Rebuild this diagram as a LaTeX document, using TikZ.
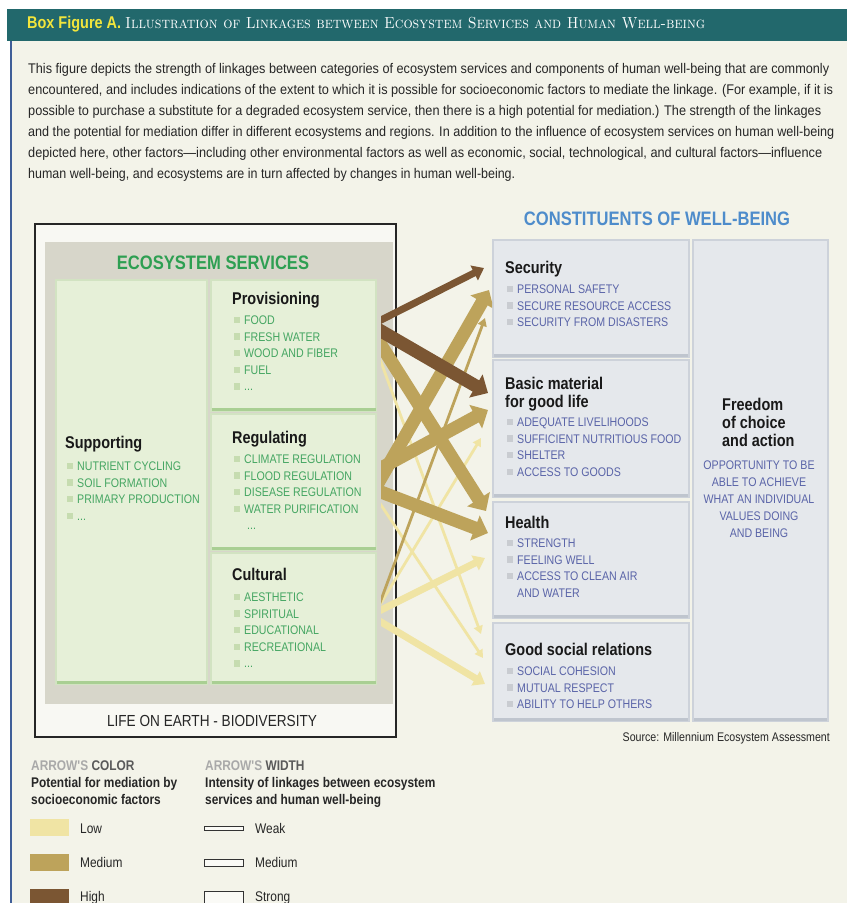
\documentclass[tikz,border=0pt]{standalone}
\usepackage{fontspec}
\usepackage{graphicx}
\newfontfamily\cf[FakeStretch=0.85]{Liberation Sans}
\usetikzlibrary{arrows.meta}
\definecolor{barteal}{HTML}{22686C}
\definecolor{cream}{HTML}{F3F3E9}
\definecolor{edgeblue}{HTML}{3F5E98}
\definecolor{titleyel}{HTML}{F2E53C}
\definecolor{esgray}{HTML}{D7D6CA}
\definecolor{gfill}{HTML}{E6F0D8}
\definecolor{gline}{HTML}{D2E3C2}
\definecolor{gedge}{HTML}{A9CF93}
\definecolor{gtext}{HTML}{45A662}
\definecolor{gtitle}{HTML}{2E9F52}
\definecolor{gbullet}{HTML}{C6DCB0}
\definecolor{bfill}{HTML}{E5E8EC}
\definecolor{bline}{HTML}{CDD2DA}
\definecolor{bedge}{HTML}{BFC5CE}
\definecolor{btext}{HTML}{5A64A8}
\definecolor{btitle}{HTML}{4E8CCB}
\definecolor{bbullet}{HTML}{C9CCD1}
\definecolor{hiC}{HTML}{7B5633}
\definecolor{medC}{HTML}{BDA35B}
\definecolor{loC}{HTML}{F0E4A4}
\definecolor{lgray}{HTML}{A9A9A9}
\definecolor{dgray}{HTML}{5A5A5A}
\newcommand\itemfont{\cf\fontsize{12.5}{14}\selectfont}
\newcommand\titfont{\cf\bfseries\fontsize{17}{20}\selectfont}
\newcommand\paraf{\cf\fontsize{14}{16}\selectfont}
\newcommand\legf{\cf\fontsize{14}{16}\selectfont}
\newcommand\gitm[4]{%
  \fill[gbullet] ({#1-10.5},{#2-3.2}) rectangle ++(6.4,6.4);
  \node[itemg] (#3) at (#1,{#2+4.5}) {#4};}
\newcommand\bitm[4]{%
  \fill[bbullet] ({#1-10},{#2-3.2}) rectangle ++(6.2,6.2);
  \node[itemb] (#3) at (#1,{#2+4.5}) {#4};}
\begin{document}
\begin{tikzpicture}[x=1pt,y=-1pt,
  itemg/.style={anchor=base west, inner sep=0pt, font=\itemfont, text=gtext},
  itemb/.style={anchor=base west, inner sep=0pt, font=\itemfont, text=btext},
  boxtitle/.style={anchor=base west, inner sep=0pt, font=\titfont, text=black!90},
  para/.style={anchor=base west, inner sep=0pt, font=\paraf, text=black!85},
  gbox/.style={anchor=north west, inner sep=0pt, outer sep=0pt, fill=gfill, draw=gline, line width=1.5pt},
  bbox/.style={anchor=north west, inner sep=0pt, outer sep=0pt, fill=bfill, draw=bline, line width=2pt},
  lnk/.style={line cap=butt, shorten <=-14pt},
  wstrong/.style={line width=13pt, -{Triangle[length=14pt,width=26pt]}},
  wmed/.style={line width=7pt, -{Triangle[length=11pt,width=16pt]}},
  wweak/.style={line width=2.8pt, -{Triangle[length=8pt,width=9pt]}},
  legh/.style={anchor=base west, inner sep=0pt, font=\legf\bfseries},
  legt/.style={anchor=base west, inner sep=0pt, font=\legf, text=black!85},
  swatch/.style={anchor=north west, inner sep=0pt, outer sep=0pt, minimum width=39pt, minimum height=17pt},
  wsample/.style={anchor=north west, inner sep=0pt, outer sep=0pt, minimum width=39pt, draw=black!80, line width=0.8pt, fill=white!60!cream}
]
\useasboundingbox (0,0) rectangle (847,903);
% page
\fill[white] (0,0) rectangle (847,903);
\fill[cream] (10,40) rectangle (847,903);
\fill[barteal] (7,9) rectangle (847,41);
\draw[edgeblue, line width=2pt] (11,41) -- (11,903);
\node[anchor=base west, inner sep=0pt, font=\cf\bfseries\fontsize{17}{20}\selectfont, text=titleyel] (bfa) at (27,28) {Box Figure A.};
\node[anchor=base west, inner sep=0pt, text=white] (ttl) at (125,28) {\resizebox{580pt}{\height}{\fontsize{16}{18}\selectfont\textsc{Illustration of Linkages between Ecosystem Services and Human Well-being}}};
% paragraph
\node[para] (l1) at (28,73) {\resizebox{801pt}{\height}{This figure depicts the strength of linkages between categories of ecosystem services and components of human well-being that are commonly}};
\node[para] (l2) at (28,94) {\resizebox{805pt}{\height}{encountered, and includes indications of the extent to which it is possible for socioeconomic factors to mediate the linkage. (For example, if it is}};
\node[para] (l3) at (28,115) {\resizebox{793pt}{\height}{possible to purchase a substitute for a degraded ecosystem service, then there is a high potential for mediation.) The strength of the linkages}};
\node[para] (l4) at (28,136) {\resizebox{806pt}{\height}{and the potential for mediation differ in different ecosystems and regions. In addition to the influence of ecosystem services on human well-being}};
\node[para] (l5) at (28,157) {\resizebox{794pt}{\height}{depicted here, other factors—including other environmental factors as well as economic, social, technological, and cultural factors—influence}};
\node[para] (l6) at (28,178) {\resizebox{487pt}{\height}{human well-being, and ecosystems are in turn affected by changes in human well-being.}};
% ecosystem side
\node[anchor=north west, inner sep=0pt, outer sep=0pt, minimum width=361pt, minimum height=513pt, fill=white!45!cream, draw=black!85, line width=1.3pt] (earth) at (35,224) {};
\node[anchor=north west, inner sep=0pt, outer sep=0pt, minimum width=348pt, minimum height=462pt, fill=esgray] (es) at (45,242) {};
\node[anchor=base, inner sep=0pt, font=\cf\bfseries\fontsize{19.5}{22}\selectfont, text=gtitle] (esT) at (213,269) {ECOSYSTEM SERVICES};
\node[anchor=base, inner sep=0pt, font=\cf\fontsize{16}{18}\selectfont, text=black!85] (lifeT) at (212,726) {LIFE ON EARTH - BIODIVERSITY};
\node[gbox, minimum width=151pt, minimum height=404pt] (supp) at (56,280) {};
\node[gbox, minimum width=165pt, minimum height=131pt] (prov) at (211,280) {};
\node[gbox, minimum width=165pt, minimum height=136pt] (reg) at (211,414) {};
\node[gbox, minimum width=165pt, minimum height=131pt] (cult) at (211,553) {};
\foreach \b in {supp,prov,reg,cult}{
  \draw[gedge, line width=3pt] ([xshift=0.5pt,yshift=1.5pt]\b.south west) -- ([xshift=-0.5pt,yshift=1.5pt]\b.south east);
}
\node[boxtitle] (provT) at (232,304) {Provisioning};
\gitm{244}{320}{pv1}{FOOD}
\gitm{244}{336.6}{pv2}{FRESH WATER}
\gitm{244}{353.2}{pv3}{WOOD AND FIBER}
\gitm{244}{369.8}{pv4}{FUEL}
\gitm{244}{386.4}{pv5}{...}
\node[boxtitle] (regT) at (232,443) {Regulating};
\gitm{244}{459}{rg1}{CLIMATE REGULATION}
\gitm{244}{475.6}{rg2}{FLOOD REGULATION}
\gitm{244}{492.2}{rg3}{DISEASE REGULATION}
\gitm{244}{508.8}{rg4}{WATER PURIFICATION}
\node[itemg] (rg5) at (247,529.9) {...};
\node[boxtitle] (cultT) at (232,580) {Cultural};
\gitm{244}{597}{cu1}{AESTHETIC}
\gitm{244}{613.6}{cu2}{SPIRITUAL}
\gitm{244}{630.2}{cu3}{EDUCATIONAL}
\gitm{244}{646.8}{cu4}{RECREATIONAL}
\gitm{244}{663.4}{cu5}{...}
\node[boxtitle] (suppT) at (65,448) {Supporting};
\gitm{77}{466}{sp1}{NUTRIENT CYCLING}
\gitm{77}{482.6}{sp2}{SOIL FORMATION}
\gitm{77}{499.2}{sp3}{PRIMARY PRODUCTION}
\gitm{77}{515.8}{sp4}{...}
% well-being side
\node[anchor=base, inner sep=0pt, font=\cf\bfseries\fontsize{19.5}{22}\selectfont, text=btitle] (cwT) at (657,225) {CONSTITUENTS OF WELL-BEING};
\node[bbox, minimum width=196pt, minimum height=117pt] (sec) at (493,240) {};
\node[bbox, minimum width=196pt, minimum height=137pt] (bas) at (493,360) {};
\node[bbox, minimum width=196pt, minimum height=116pt] (hea) at (493,502) {};
\node[bbox, minimum width=196pt, minimum height=98pt] (soc) at (493,623) {};
\node[bbox, minimum width=135pt, minimum height=481pt] (fre) at (693,240) {};
\foreach \b in {sec,bas,hea,soc,fre}{
  \draw[bedge, line width=3pt] ([xshift=1pt,yshift=1.5pt]\b.south west) -- ([xshift=-1pt,yshift=1.5pt]\b.south east);
}
\node[boxtitle] (secT) at (505,273) {Security};
\bitm{517}{289}{se1}{PERSONAL SAFETY}
\bitm{517}{305.6}{se2}{SECURE RESOURCE ACCESS}
\bitm{517}{322.2}{se3}{SECURITY FROM DISASTERS}
\node[boxtitle] (basT1) at (505,389) {Basic material};
\node[boxtitle] (basT2) at (505,407) {for good life};
\bitm{517}{422}{ba1}{ADEQUATE LIVELIHOODS}
\bitm{517}{438.6}{ba2}{SUFFICIENT NUTRITIOUS FOOD}
\bitm{517}{455.2}{ba3}{SHELTER}
\bitm{517}{471.8}{ba4}{ACCESS TO GOODS}
\node[boxtitle] (heaT) at (505,528) {Health};
\bitm{517}{543}{he1}{STRENGTH}
\bitm{517}{559.6}{he2}{FEELING WELL}
\bitm{517}{576.2}{he3}{ACCESS TO CLEAN AIR}
\node[itemb] (he4) at (517,597.3) {AND WATER};
\node[boxtitle] (socT) at (505,655) {Good social relations};
\bitm{517}{671}{so1}{SOCIAL COHESION}
\bitm{517}{687.6}{so2}{MUTUAL RESPECT}
\bitm{517}{704.2}{so3}{ABILITY TO HELP OTHERS}
\node[boxtitle] (freT1) at (722,410) {Freedom};
\node[boxtitle] (freT2) at (722,428) {of choice};
\node[boxtitle] (freT3) at (722,446) {and action};
\foreach \t/\yy [count=\i] in {OPPORTUNITY TO BE/469.5, ABLE TO ACHIEVE/486.5, WHAT AN INDIVIDUAL/503.5, VALUES DOING/520.5, AND BEING/537.5}
  \node[anchor=base, inner sep=0pt, font=\itemfont, text=btext] (fr\i) at (759,\yy) {\t};
\node[anchor=base east, inner sep=0pt, font=\cf\fontsize{12.5}{14}\selectfont, text=black!85] (src) at (830,741) {Source: Millennium Ecosystem Assessment};
% linkage end points
\coordinate (pS) at (381,320);   \coordinate (tS1) at (484,268);
\coordinate (pB) at (381,331);   \coordinate (tB1) at (488,393);
\coordinate (pH) at (381,345);   \coordinate (tH1) at (486,511);
\coordinate (pG) at (381,362);   \coordinate (tG1) at (481,634);
\coordinate (rS) at (381,478);   \coordinate (tS2) at (489,290);
\coordinate (rB) at (381,468);   \coordinate (tB2) at (488,410);
\coordinate (rH) at (381,492);   \coordinate (tH2) at (488,533);
\coordinate (rG) at (381,505);   \coordinate (tG2) at (483,658);
\coordinate (cS) at (381,600);   \coordinate (tS3) at (485,318);
\coordinate (cB) at (381,603);   \coordinate (tB3) at (481,438);
\coordinate (cH) at (381,610);   \coordinate (tH3) at (485,558);
\coordinate (cG) at (381,622);   \coordinate (tG3) at (485,684);
\begin{scope}
\clip (381,225) rectangle (492,725);
\draw[lnk, wweak, loC] (pG) -- (tG1);
\draw[lnk, wweak, loC] (rG) -- (tG2);
\draw[lnk, wweak, loC] (cB) -- (tB3);
\draw[lnk, wmed, loC] (cH) -- (tH3);
\draw[lnk, wmed, loC] (cG) -- (tG3);
\draw[lnk, wweak, medC] (cS) -- (tS3);
\draw[lnk, wstrong, medC] (rS) -- (tS2);
\draw[lnk, wstrong, medC] (rB) -- (tB2);
\draw[lnk, wstrong, medC] (rH) -- (tH2);
\draw[lnk, wstrong, medC] (pH) -- (tH1);
\draw[lnk, wmed, hiC] (pS) -- (tS1);
\draw[lnk, wstrong, hiC] (pB) -- (tB1);
\end{scope}
% legend
\node[legh] (lc1) at (31,770) {\textcolor{lgray}{ARROW'S} \textcolor{dgray}{COLOR}};
\node[legh, text=black!85] (lc2) at (31,787) {Potential for mediation by};
\node[legh, text=black!85] (lc3) at (31,804) {socioeconomic factors};
\node[legh] (lw1) at (205,770) {\textcolor{lgray}{ARROW'S} \textcolor{dgray}{WIDTH}};
\node[legh, text=black!85] (lw2) at (205,787) {Intensity of linkages between ecosystem};
\node[legh, text=black!85] (lw3) at (205,804) {services and human well-being};
\node[swatch, fill=loC] (swL) at (30,819) {};
\node[swatch, fill=medC] (swM) at (30,854) {};
\node[swatch, fill=hiC] (swH) at (30,889) {};
\node[legt] (tL) at (80,833) {Low};
\node[legt] (tM) at (80,867) {Medium};
\node[legt] (tH) at (80,901) {High};
\node[wsample, minimum height=4pt] (wW) at (204,826.5) {};
\node[wsample, minimum height=7pt] (wM) at (204,859) {};
\node[wsample, minimum height=16pt] (wS) at (204,891) {};
\node[legt] (tW) at (255,833) {Weak};
\node[legt] (tWM) at (255,867) {Medium};
\node[legt] (tWS) at (255,901) {Strong};
\end{tikzpicture}
\end{document}
